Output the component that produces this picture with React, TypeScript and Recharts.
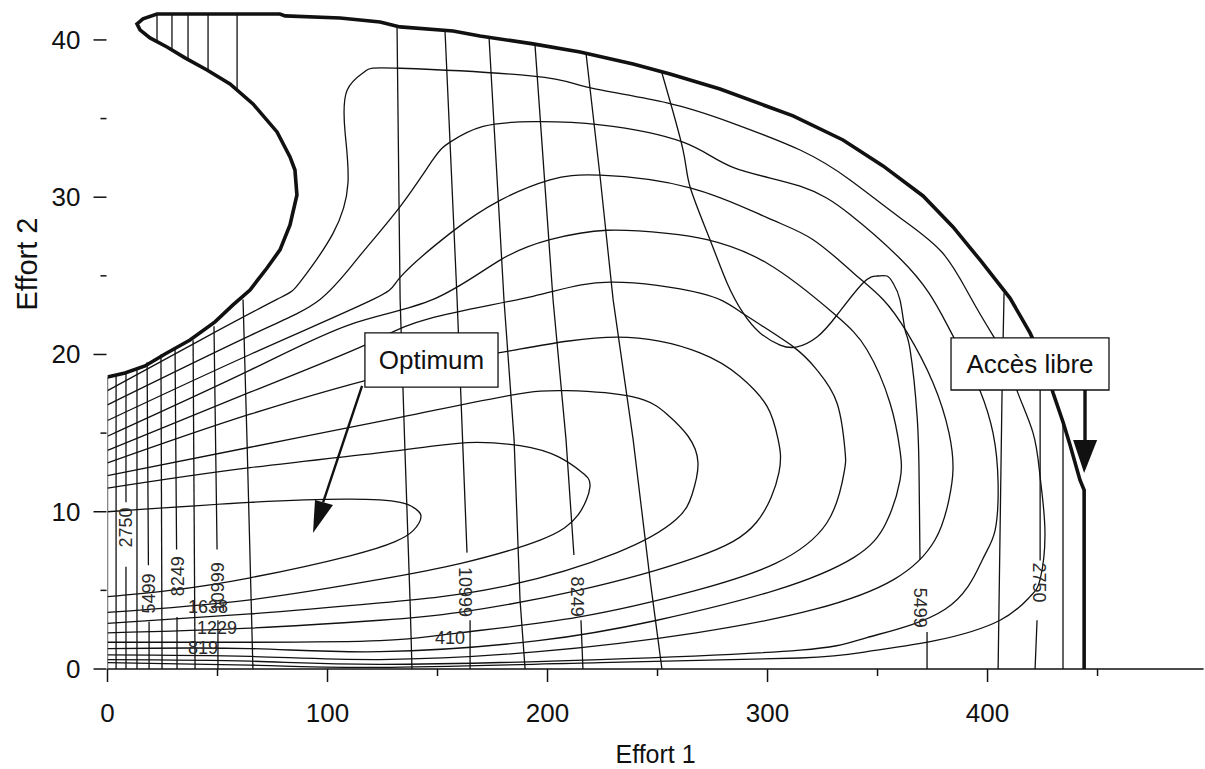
import React from 'react';
import { ComposedChart, Line, Scatter, XAxis, YAxis, ReferenceArea, Label } from 'recharts';

type Pt = [number, number | null];

const FONT = '"Liberation Sans", Arial, sans-serif';
const INK = '#111';

const xTicks = [0, 50, 100, 150, 200, 250, 300, 350, 400, 450];
const yTicks = [0, 5, 10, 15, 20, 25, 30, 35, 40];

// thick frontier of the feasible region (ends in the open-access line)
const boundary: Pt[] = [
  [0, 18.57], [7.95, 18.82], [17.05, 19.27], [26.14, 20.03], [37.5, 20.92], [48.86, 22.07],
  [57.05, 23.15], [64.77, 24.1], [72.5, 25.5], [78.4, 26.65], [82.95, 28.24], [86.1, 30.14],
  [85.2, 31.73], [82.95, 32.56], [77.05, 34.15], [66.14, 35.93], [55.68, 37.2], [45.23, 38.09],
  [35.23, 38.86], [27.05, 39.55], [19.32, 40.13], [14.77, 40.64], [13.41, 41.02], [16.14, 41.34],
  [22.5, 41.65], [78.4, 41.65], [80.7, 41.53], [105.7, 41.4], [123.9, 41.14], [132.95, 40.83],
  [157.05, 40.57], [169.3, 40.25], [193.4, 39.75], [214.8, 39.24], [238.9, 38.47], [255.7, 37.84],
  [278.4, 36.88], [311.6, 35.17], [334.3, 33.64], [352.5, 31.99], [370.7, 30.08], [384.3, 28.11],
  [396.6, 26.01], [410.2, 23.59], [419.3, 21.37], [426.1, 19.33], [429.8, 17.55], [434.3, 15.71],
  [437.5, 14.24], [442.0, 12.02], [443.9, 11.38], [443.9, 0],
];

// profit contours, inner (optimum) to outer: left top -> right tip -> left bottom
const profit1: Pt[] = [
  [0, 10.0], [64.8, 10.6], [110.2, 10.8], [133, 10.6], [139.8, 10.2], [142.5, 9.7], [138.9, 8.8],
  [130.7, 8.1], [110.2, 7.2], [64.8, 5.8], [28.4, 5.0], [0, 4.6],
];
const profit2: Pt[] = [
  [0, 11.5], [64.8, 12.8], [133, 13.9], [163.4, 14.4], [187.5, 14.2], [204.8, 13.5], [215.7, 12.5],
  [219.3, 11.6], [213.9, 9.8], [196.6, 8.2], [160.2, 6.7], [123.9, 5.7], [64.8, 4.4], [0, 3.6],
];
const profit3: Pt[] = [
  [0, 12.3], [64.8, 14.1], [133, 16.0], [183, 17.4], [208.9, 17.7], [238.9, 17.3], [254.3, 16.2],
  [263.9, 14.8], [268.4, 13.1], [265.7, 11.1], [258.4, 9.5], [231.6, 7.4], [178.4, 5.2], [123.9, 4.2],
  [64.8, 3.5], [0, 2.9],
];
const profit4: Pt[] = [
  [0, 13.1], [64.8, 16.2], [133, 18.9], [181.6, 20.2], [231.6, 21.1], [269.3, 20.1], [287.5, 18.6],
  [299.8, 16.7], [304.8, 14.6], [305.2, 12.5], [294.8, 9.3], [267.5, 7.1], [213.9, 5.0], [159.8, 3.6],
  [123.9, 3.1], [64.8, 2.6], [0, 2.3],
];
const profit5: Pt[] = [
  [0, 13.9], [64.8, 17.6], [117, 20.6], [146.6, 22.3], [193.4, 23.7], [228.4, 24.6], [269.3, 23.9],
  [288.9, 22.6], [311.6, 20.5], [322.5, 19.0], [331.6, 16.9], [335.2, 13.9], [334.8, 12.5], [327, 9.3],
  [303.4, 6.7], [267.5, 5.0], [213.9, 3.3], [159.8, 2.3], [123.9, 1.8], [64.8, 1.7], [0, 1.7],
];
const profit6: Pt[] = [
  [0, 14.8], [64.8, 19.0], [110.2, 21.9], [148, 23.5], [178.4, 26.0], [201.1, 27.3], [227, 27.9],
  [254.3, 27.7], [272.5, 27.3], [299.8, 25.8], [330.1, 22.6], [345.2, 20.3], [355.7, 16.9], [360.2, 13.9],
  [360.2, 12.0], [353.9, 9.3], [339.3, 7.1], [303.4, 5.0], [249.8, 3.1], [195.7, 1.8], [123.9, 1.1],
  [64.8, 1.3], [0, 1.3],
];
const profit7: Pt[] = [
  [0, 15.8], [64.8, 20.0], [120.7, 23.5], [133, 24.9], [155.7, 27.7], [178.4, 29.8], [201.1, 31.1],
  [223.9, 31.4], [264.8, 30.6], [299.8, 28.7], [320.7, 27.3], [338.9, 25.2], [352.5, 23.5], [363.4, 21.4],
  [375.2, 18.2], [382.5, 15.0], [384.3, 12.7], [382.5, 10.8], [376.1, 8.2], [357.5, 5.7], [321.6, 3.8],
  [267.5, 2.3], [195.7, 1.1], [123.9, 0.6], [64.8, 0.8], [0, 0.9],
];
const profit8: Pt[] = [
  [0, 16.8], [64.8, 21.2], [96.6, 23.5], [114.8, 26.3], [133, 29.4], [148, 32.4], [155.7, 33.5],
  [170.7, 34.5], [193.4, 34.8], [223.9, 34.6], [261.6, 33.5], [284.3, 31.9], [314.8, 30.7], [337.5, 28.9],
  [360.2, 26.1], [373.4, 23.9], [381.6, 21.9], [389.8, 19.7], [396.6, 17.7], [402.5, 15.0], [404.8, 11.8],
  [403.4, 8.8], [397.5, 6.9], [380.7, 3.8], [345.2, 2.0], [314.8, 1.2], [223.9, 0.6], [123.9, 0.3],
  [64.8, 0.5], [0, 0.6],
];
const profit9: Pt[] = [
  [0, 17.7], [42, 20.9], [77, 23.5], [87.5, 24.6], [102.5, 27.7], [109.3, 30.9], [108, 34.1],
  [108.9, 36.8], [117, 38.0], [133, 38.2], [193.4, 37.7], [218, 37.0], [254.3, 36.0], [284.3, 34.7],
  [314.8, 33.0], [337.5, 31.1], [360.2, 28.7], [379.3, 26.5], [392, 23.7], [402.5, 21.2], [410.2, 19.3],
  [413.4, 17.7], [420.7, 15.0], [423.9, 12.2], [426.1, 8.7], [423.9, 5.7], [419.3, 4.6], [405.7, 3.1],
  [376.1, 1.8], [345.2, 1.1], [314.8, 0.7], [223.9, 0.4], [123.9, 0.1], [64.8, 0.25], [0, 0.4],
];

// second family of contours (near-vertical); null = gap left for a label
const stockLeft: Pt[][] = [
  [[0, 0], [0, 18.57]],
  [[3.9, 0], [3.9, 18.7]],
  [[8.4, 0], [8.4, 6.5], [8.4, null], [8.4, 10.6], [8.4, 18.9]],
  [[13.4, 0], [13.4, 19.2]],
  [[18.9, 0], [18.9, 3.0], [18.8, null], [18.6, 6.6], [18.0, 19.5]],
  [[24.8, 0], [24.3, 20.0]],
  [[31.6, 0], [31.6, 3.3], [31.5, null], [31.4, 7.6], [30.7, 20.4]],
  [[39.8, 0], [38.9, 20.9]],
  [[50.2, 0], [50.2, 3.1], [50.1, null], [49.8, 7.6], [48.4, 21.8]],
  [[66.1, 0], [63.4, 14.6], [61.6, 23.5]],
];
const stockTop: Pt[][] = [
  [[22.5, 41.6], [22.5, 39.8]],
  [[29.3, 41.6], [29.3, 39.4]],
  [[36.6, 41.6], [36.6, 38.8]],
  [[45.7, 41.6], [45.7, 38.1]],
  [[58.9, 41.6], [58.9, 36.8]],
];
const stockMid: Pt[][] = [
  [[131.6, 40.85], [133, 23.5], [135.2, 13.9], [137.5, 4.4], [138.4, 0]],
  [[153.4, 40.6], [158.9, 23.5], [163.4, 7.4], [164, null], [164.8, 3.1], [164.8, 0]],
  [[173.4, 40.2], [180.2, 23.5], [184.8, 14.6], [187.5, 4.4], [189.8, 0]],
  [[194.3, 39.7], [202.5, 23.5], [208.4, 14.6], [212, 7.25], [213, null], [215.2, 3.1], [216.1, 0]],
  [[217.5, 39.15], [223.9, 31.3], [229.8, 23.5], [238.9, 14.6], [246.6, 5.7], [252, 0]],
  [[407.5, 23.9], [406.6, 17.7], [404.8, 0]],
  [[423.9, 20.6], [423.9, 6.9], [423.5, null], [422.5, 3.1], [421.6, 0]],
  [[434.3, 15.7], [434.3, 0]],
];
const stock5499: Pt[] = [
  [252, 37.9], [261.6, 33], [264.8, 30.65], [273.9, 27.28], [281.6, 24.55], [288.9, 22.64],
  [296.6, 21.37], [305.7, 20.6], [313.4, 20.48], [322.5, 21.11], [331.6, 22.51], [343.4, 24.55],
  [349.8, 24.99], [354.3, 24.99], [357, 24.55], [360.2, 23.47], [362.5, 21.56], [364.8, 20.29],
  [368, 16.03], [368.9, 12.02], [369.3, 6.93], [370, null], [372.5, 2.35], [372.5, 0],
];

const labelsUp = [
  { x: 8.4, y: 9.0, text: '2750' },
  { x: 18.9, y: 4.8, text: '5499' },
  { x: 31.9, y: 5.9, text: '8249' },
  { x: 50.2, y: 5.2, text: '10999' },
];
const labelsDown = [
  { x: 162.6, y: 4.9, text: '10999' },
  { x: 213.4, y: 4.6, text: '8249' },
  { x: 369.3, y: 3.9, text: '5499' },
  { x: 423.4, y: 5.5, text: '2750' },
];
const labelsFlat = [
  { x: 45.7, y: 3.95, text: '1638' },
  { x: 49.8, y: 2.62, text: '1229' },
  { x: 43.4, y: 1.33, text: '819' },
  { x: 155.7, y: 2.0, text: '410' },
];

const optimumBox = { x1: 117, x2: 177.5, y1: 17.93, y2: 21.37 };
const libreBox = { x1: 383.4, x2: 455.2, y1: 17.74, y2: 21.05 };
const optimumShaft: Pt[] = [[115.7, 18.0], [98.0, 10.6]];
const optimumTip = [{ x: 93.4, y: 8.65 }];
const libreShaft: Pt[] = [[444.3, 17.74], [444.3, 14.4]];
const libreTip = [{ x: 443.9, y: 12.46 }];

const rows = (pts: Pt[]) => pts.map(([x, y]) => ({ x, y }));

const curve = (pts: Pt[], key: string, type: any = 'linear', width = 1.3) => (
  <Line
    key={key}
    data={rows(pts)}
    dataKey="y"
    type={type}
    stroke={INK}
    strokeWidth={width}
    dot={false}
    activeDot={false}
    legendType="none"
    isAnimationActive={false}
  />
);

const XTick = (props: any) => {
  const { x, y, payload } = props;
  const major = payload.value % 100 === 0;
  return (
    <g>
      <line x1={x} x2={x} y1={y} y2={y + (major ? 13 : 7)} stroke={INK} strokeWidth={1.5} />
      {major && (
        <text x={x} y={y + 53} textAnchor="middle" fontSize={26} fontFamily={FONT} fill={INK}>
          {payload.value}
        </text>
      )}
    </g>
  );
};

const YTick = (props: any) => {
  const { x, y, payload } = props;
  const major = payload.value % 10 === 0;
  return (
    <g>
      <line x1={x - (major ? 14 : 7)} x2={x - 1} y1={y} y2={y} stroke={INK} strokeWidth={1.5} />
      {major && (
        <text x={x - 27} y={y + 9} textAnchor="end" fontSize={26} fontFamily={FONT} fill={INK}>
          {payload.value}
        </text>
      )}
    </g>
  );
};

const YTitle = (props: any) => {
  const vb = props.viewBox ?? { x: 0, y: 0 };
  const cx = vb.x + 37;
  const cy = vb.y + 264;
  return (
    <text x={cx} y={cy} transform={`rotate(-90 ${cx} ${cy})`} textAnchor="middle" fontSize={29} fontFamily={FONT} fill={INK}>
      Effort 2
    </text>
  );
};

const textMark = (angle: number) => (p: any) => (
  <text
    x={p.cx}
    y={p.cy}
    transform={angle ? `rotate(${angle} ${p.cx} ${p.cy})` : undefined}
    textAnchor="middle"
    dominantBaseline="central"
    fontSize={18}
    fontFamily={FONT}
    fill="#2a2a2a"
  >
    {p.payload.text}
  </text>
);

const optimumHead = (p: any) => (
  <polygon points={`${p.cx},${p.cy} ${p.cx + 2},${p.cy - 33} ${p.cx + 20},${p.cy - 28}`} fill={INK} />
);
const libreHead = (p: any) => (
  <polygon points={`${p.cx},${p.cy} ${p.cx - 11},${p.cy - 33} ${p.cx + 13},${p.cy - 33}`} fill={INK} />
);

export default function App() {
  const profits = [profit1, profit2, profit3, profit4, profit5, profit6, profit7, profit8, profit9];
  return (
    <div style={{ position: 'absolute', left: 0, top: 0, background: '#fff' }}>
      <ComposedChart width={1205} height={769} margin={{ top: 0, right: 1.4, bottom: 0, left: 0 }}>
        <XAxis
          dataKey="x"
          type="number"
          scale="linear"
          domain={[0, 498.2]}
          allowDataOverflow
          ticks={xTicks}
          interval={0}
          height={100}
          tickLine={false}
          tickSize={0}
          tickMargin={0}
          tick={<XTick />}
          axisLine={{ stroke: INK, strokeWidth: 1.5 }}
          label={{ value: 'Effort 1', position: 'insideBottom', offset: 6, fontSize: 25, fill: INK, fontFamily: FONT }}
        />
        <YAxis
          dataKey="y"
          type="number"
          scale="linear"
          domain={[0, 42.54]}
          allowDataOverflow
          ticks={yTicks}
          interval={0}
          width={107.5}
          tickLine={false}
          tickSize={0}
          tickMargin={0}
          tick={<YTick />}
          axisLine={false}
          label={<YTitle />}
        />
        {stockLeft.map((s, i) => curve(s, `sl${i}`))}
        {stockTop.map((s, i) => curve(s, `st${i}`))}
        {stockMid.map((s, i) => curve(s, `sm${i}`))}
        {curve(stock5499, 's5499', 'natural')}
        {profits.map((s, i) => curve(s, `p${i}`, 'natural'))}
        {curve(boundary, 'boundary', 'linear', 3.6)}
        {curve(optimumShaft, 'optShaft', 'linear', 2.4)}
        {curve(libreShaft, 'libShaft', 'linear', 3.4)}
        <ReferenceArea
          {...optimumBox}
          fill="#fff"
          fillOpacity={1}
          stroke={INK}
          strokeWidth={1.3}
          zIndex={650}
          label={<Label value="Optimum" position="center" fontSize={26} fill={INK} fontFamily={FONT} />}
        />
        <ReferenceArea
          {...libreBox}
          fill="#fff"
          fillOpacity={1}
          stroke={INK}
          strokeWidth={1.3}
          zIndex={650}
          label={<Label value="Accès libre" position="center" fontSize={26} fill={INK} fontFamily={FONT} />}
        />
        <Scatter data={optimumTip} shape={optimumHead} isAnimationActive={false} legendType="none" />
        <Scatter data={libreTip} shape={libreHead} isAnimationActive={false} legendType="none" />
        <Scatter data={labelsUp} shape={textMark(-90)} isAnimationActive={false} legendType="none" />
        <Scatter data={labelsDown} shape={textMark(90)} isAnimationActive={false} legendType="none" />
        <Scatter data={labelsFlat} shape={textMark(0)} isAnimationActive={false} legendType="none" />
      </ComposedChart>
    </div>
  );
}
